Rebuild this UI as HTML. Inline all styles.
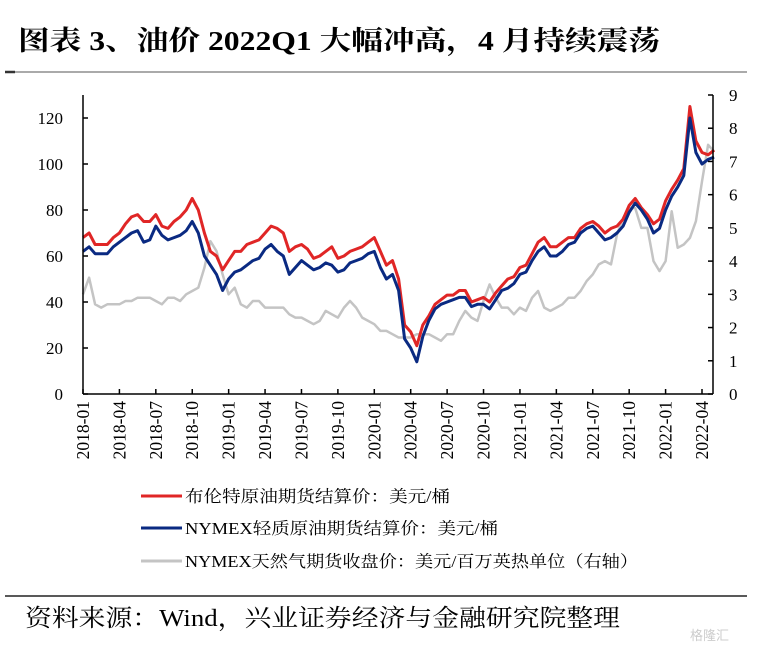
<!DOCTYPE html>
<html><head><meta charset="utf-8">
<style>
html,body{margin:0;padding:0;background:#fff;}
body{width:763px;height:653px;position:relative;overflow:hidden;font-family:"Liberation Serif","Noto Serif CJK SC",serif;}
</style></head>
<body>
<svg id="chart" width="763" height="653" viewBox="0 0 763 653" xmlns="http://www.w3.org/2000/svg">
  <text x="18" y="50" font-size="27" font-weight="bold" font-family="Liberation Serif, Noto Serif CJK SC, serif" fill="#000" textLength="642" lengthAdjust="spacingAndGlyphs">图表 3、油价 2022Q1 大幅冲高，4 月持续震荡</text>
  <line x1="5" y1="72" x2="747" y2="72" stroke="#555" stroke-width="1"/>
  <line x1="5" y1="72" x2="15" y2="72" stroke="#333" stroke-width="2.5"/>
  <g id="plot"></g>
  <g font-family="Liberation Serif, Noto Serif CJK SC, serif" font-size="16.5" fill="#000">
    <g>
      <line x1="141" y1="496" x2="182" y2="496" stroke="#e02626" stroke-width="3"/>
      <text x="185" y="502" textLength="265" lengthAdjust="spacingAndGlyphs">布伦特原油期货结算价：美元/桶</text>
    </g>
    <g>
      <line x1="141" y1="528" x2="182" y2="528" stroke="#0a2a82" stroke-width="3"/>
      <text x="185" y="534" textLength="313" lengthAdjust="spacingAndGlyphs">NYMEX轻质原油期货结算价：美元/桶</text>
    </g>
    <g>
      <line x1="141" y1="561" x2="182" y2="561" stroke="#c4c4c4" stroke-width="3"/>
      <text x="185" y="567" textLength="453" lengthAdjust="spacingAndGlyphs">NYMEX天然气期货收盘价：美元/百万英热单位（右轴）</text>
    </g>
  </g>
  <line x1="5" y1="596" x2="747" y2="596" stroke="#222" stroke-width="1.5"/>
  <text x="25" y="626" font-size="24" font-family="Liberation Serif, Noto Serif CJK SC, serif" fill="#000" textLength="595" lengthAdjust="spacingAndGlyphs">资料来源：Wind，兴业证券经济与金融研究院整理</text>
  <text x="690" y="640" font-size="13" fill="#ccc" font-family="Liberation Sans, Noto Sans CJK SC, sans-serif">格隆汇</text>
</svg>
<script>
// half-monthly points starting 2018-01
const brent = [68,70,65,65,65,68,70,74,77,78,75,75,78,73,72,75,77,80,85,80,70,62,60,54,
58,62,62,65,66,67,70,73,72,70,62,64,65,63,59,60,62,64,59,60,62,63,64,66,
68,62,56,58,50,30,27,21,30,34,39,41,43,43,45,45,40,41,42,40,44,47,50,51,
55,56,61,66,68,64,64,66,68,68,72,74,75,73,70,72,73,76,82,85,81,78,74,76,
84,89,93,98,125,110,105,104,106];
const wti = [62,64,61,61,61,64,66,68,70,71,66,67,73,69,67,68,69,71,75,70,60,56,52,45,
50,53,54,56,58,59,63,65,62,60,52,55,58,56,54,55,57,56,53,54,57,58,59,61,
62,55,50,52,45,24,20,14,25,32,37,39,40,41,42,42,38,39,39,37,41,45,46,48,
52,53,58,62,64,60,60,62,65,66,70,72,73,70,67,68,70,73,79,83,80,76,70,72,
80,86,90,95,120,105,100,102,103];
const gas = [3.0,3.5,2.7,2.6,2.7,2.7,2.7,2.8,2.8,2.9,2.9,2.9,2.8,2.7,2.9,2.9,2.8,3.0,3.1,3.2,3.8,4.6,4.3,3.6,
3.0,3.2,2.7,2.6,2.8,2.8,2.6,2.6,2.6,2.6,2.4,2.3,2.3,2.2,2.1,2.2,2.5,2.4,2.3,2.6,2.8,2.6,2.3,2.2,
2.1,1.9,1.9,1.8,1.7,1.7,1.7,1.8,1.8,1.8,1.7,1.6,1.8,1.8,2.2,2.5,2.3,2.2,2.8,3.3,2.9,2.6,2.6,2.4,
2.6,2.5,2.9,3.1,2.6,2.5,2.6,2.7,2.9,2.9,3.1,3.4,3.6,3.9,4.0,3.9,4.8,5.3,5.6,5.6,5.0,5.0,4.0,3.7,
4.0,5.5,4.4,4.5,4.7,5.2,6.4,7.5,7.3];
const leftTicks = [0,20,40,60,80,100,120];
const rightTicks = [0,1,2,3,4,5,6,7,8,9];
const xTickLabels = ["2018-01","2018-04","2018-07","2018-10","2019-01","2019-04","2019-07","2019-10","2020-01","2020-04","2020-07","2020-10","2021-01","2021-04","2021-07","2021-10","2022-01","2022-04"];

const X0=83, X1=713, Y0=394, YT=95;
const pxPerMonth=(702-83)/51;
const xm = m => X0 + m*pxPerMonth;
const yL = v => Y0 - v*(Y0-YT)/130;
const yR = v => Y0 - v*(Y0-YT)/9;
const NS="http://www.w3.org/2000/svg";
const plot=document.getElementById('plot');
function mk(tag,attrs){const e=document.createElementNS(NS,tag);for(const k in attrs)e.setAttribute(k,attrs[k]);plot.appendChild(e);return e;}

function series(arr,yf,color,w,name){
  const d=arr.map((v,i)=>(i?'L':'M')+xm(i/2).toFixed(1)+','+yf(v).toFixed(1)).join(' ');
  const p=mk('path',{d:d,fill:'none',stroke:color,'stroke-width':w,'stroke-linejoin':'round'});
  
  
}
series(gas,yR,'#c4c4c4',2.5,'series-gas');
series(brent,yL,'#e02626',3,'series-brent');
series(wti,yL,'#0a2a82',3,'series-wti');

let a=mk('line',{x1:X0,y1:YT,x2:X0,y2:Y0,stroke:'#000','stroke-width':1.5});


a=mk('line',{x1:X1,y1:YT,x2:X1,y2:Y0,stroke:'#000','stroke-width':1.5});


a=mk('line',{x1:X0,y1:Y0,x2:X1,y2:Y0,stroke:'#000','stroke-width':1.5});



leftTicks.forEach(v=>{
  const y=yL(v);
  const t=mk('line',{x1:X0,y1:y,x2:X0+5,y2:y,stroke:'#000','stroke-width':1.5});
  
  
  const l=mk('text',{x:63,y:y+6,'text-anchor':'end','font-size':17,'font-family':'Liberation Serif, serif'});
  l.textContent=v;
  
  
});
rightTicks.forEach(v=>{
  const y=yR(v);
  const t=mk('line',{x1:X1-5,y1:y,x2:X1,y2:y,stroke:'#000','stroke-width':1.5});
  
  
  const l=mk('text',{x:729,y:y+6,'font-size':17,'font-family':'Liberation Serif, serif'});
  l.textContent=v;
  
  
});
xTickLabels.forEach((s,i)=>{
  const x=xm(i*3);
  const t=mk('line',{x1:x,y1:Y0,x2:x,y2:Y0-5,stroke:'#000','stroke-width':1.5});
  
  
  const l=mk('text',{x:0,y:0,'text-anchor':'end','font-size':17.5,'font-family':'Liberation Serif, serif',transform:`translate(${(x+6).toFixed(1)},401) rotate(-90)`});
  l.textContent=s;
  
  
});
</script>
</body></html>
